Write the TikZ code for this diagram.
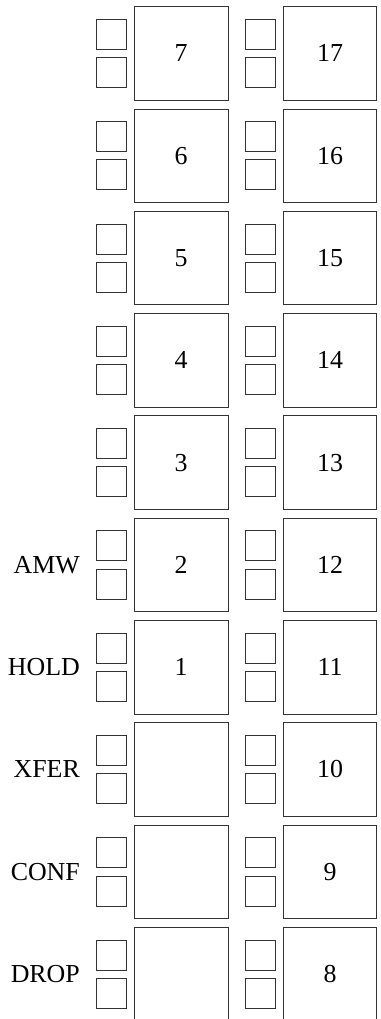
\documentclass[tikz,border=0pt]{standalone}
\usepackage{fontspec}
\setmainfont{Liberation Serif}
\usetikzlibrary{positioning}

\begin{document}
\begin{tikzpicture}[
    x = 1bp, y = -1bp,
    line width = 0.8bp,
    key/.style = {draw=black!80, minimum size=93.5bp, inner sep=0pt,
        font=\fontsize{26}{31}\selectfont},
    lamp/.style = {draw=black!80, minimum size=30bp, inner sep=0pt},
    tag/.style = {inner sep=0pt, font=\fontsize{26}{31}\selectfont}
]
\useasboundingbox (0,0) rectangle (380,1019);
\clip (0,0) rectangle (380,1019);

% Keys, each with its pair of lamps
\foreach \l/\r [count=\i from 0] in {7/17, 6/16, 5/15, 4/14, 3/13, 2/12, 1/11, {}/10, {}/9, {}/8} {
    \node[key] (kl\i) at (181.2, {53.4+102.3*\i}) {\l};
    \node[key] (kr\i) at (330, {53.4+102.3*\i}) {\r};
    \node[lamp, anchor=south east] (ul\i) at ([xshift=-7bp, yshift=3.7bp]kl\i.west) {};
    \node[lamp, anchor=north east] (dl\i) at ([xshift=-7bp, yshift=-3.7bp]kl\i.west) {};
    \node[lamp, anchor=south east] (ur\i) at ([xshift=-7.3bp, yshift=3.7bp]kr\i.west) {};
    \node[lamp, anchor=north east] (dr\i) at ([xshift=-7.3bp, yshift=-3.7bp]kr\i.west) {};
}

% Function labels
\foreach \t [count=\i from 5] in {AMW, HOLD, XFER, CONF, DROP}
    \node[tag, left=53.8bp of kl\i.west] (t\i) {\t};

\end{tikzpicture}
\end{document}
